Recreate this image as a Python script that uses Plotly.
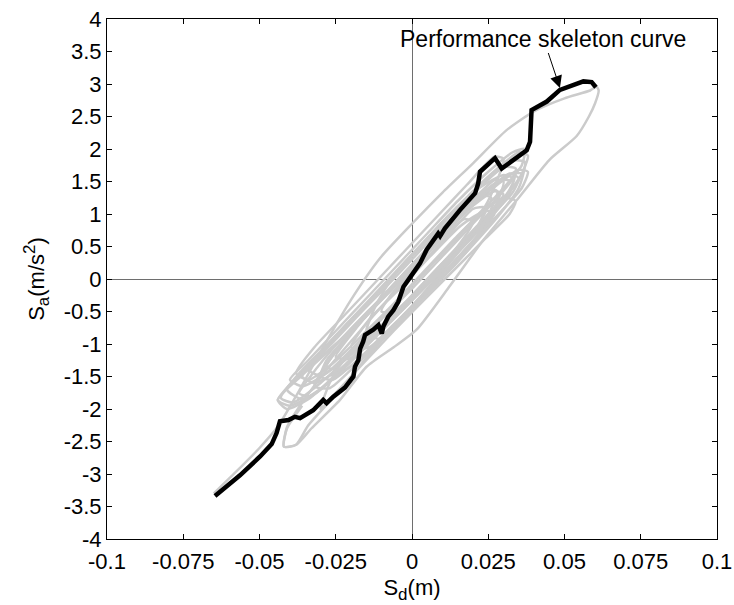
import plotly.graph_objects as go

# ---- data ----
skel_x = [-0.0646, -0.0564, -0.0498, -0.046, -0.0444, -0.0433, -0.0405, -0.0384, -0.0367,
          -0.0324, -0.0291, -0.028, -0.0258, -0.022, -0.0192, -0.0187, -0.0176, -0.017,
          -0.016, -0.0154, -0.0127, -0.011, -0.0099, -0.0094, -0.0078, -0.0061, -0.0045,
          -0.0028, -0.0001, 0.0026, 0.0048, 0.0086, 0.0092, 0.0108, 0.0157, 0.0207, 0.0217,
          0.0223, 0.0272, 0.0294, 0.0376, 0.0387, 0.0392, 0.0442, 0.0485, 0.0529, 0.0562,
          0.0589, 0.0603]
skel_y = [-3.34, -3.02, -2.73, -2.54, -2.37, -2.19, -2.17, -2.12, -2.14,
          -2.02, -1.86, -1.91, -1.81, -1.67, -1.50, -1.35, -1.25, -1.07,
          -0.96, -0.86, -0.78, -0.71, -0.84, -0.73, -0.58, -0.48, -0.35,
          -0.12, 0.06, 0.24, 0.45, 0.70, 0.66, 0.78, 1.06, 1.32, 1.47,
          1.65, 1.86, 1.70, 1.98, 2.11, 2.60, 2.73, 2.91, 2.98, 3.04,
          3.03, 2.95]

# hysteresis loops (grey)
loopA_x = [-0.065, -0.058, -0.050, -0.044, -0.038, -0.030, -0.020, -0.0105, 0.000, 0.010, 0.020,
           0.031, 0.040, 0.050, 0.0584, 0.0605, 0.0612, 0.060, 0.058, 0.054, 0.045, 0.035, 0.0234,
           0.0125, 0.0015, -0.006, -0.0149, -0.0236, -0.033, -0.038, -0.042, -0.041, -0.036]
loopA_y = [-3.30, -2.98, -2.60, -2.27, -1.80, -1.12, -0.32, 0.32, 0.85, 1.33, 1.78,
           2.29, 2.58, 2.78, 2.90, 2.96, 2.90, 2.70, 2.50, 2.20, 1.83, 1.25, 0.60,
           -0.10, -0.78, -1.05, -1.35, -1.86, -2.30, -2.55, -2.58, -2.30, -1.95]

loop1_x = [-0.044, -0.040, -0.030, -0.020, -0.010, 0.000, 0.010, 0.020, 0.030, 0.036, 0.038,
           0.035, 0.028, 0.020, 0.010, 0.000, -0.010, -0.020, -0.030, -0.038, -0.044]
loop1_y = [-1.86, -1.95, -1.70, -1.25, -0.75, -0.30, 0.20, 0.72, 1.22, 1.62, 1.90,
           1.95, 1.70, 1.35, 0.85, 0.35, -0.15, -0.62, -1.12, -1.52, -1.86]

loop2_x = [-0.040, -0.036, -0.028, -0.018, -0.008, 0.002, 0.012, 0.022, 0.030, 0.036, 0.037,
           0.033, 0.025, 0.015, 0.005, -0.005, -0.015, -0.025, -0.034, -0.040]
loop2_y = [-1.55, -1.65, -1.45, -1.00, -0.50, 0.00, 0.50, 1.00, 1.40, 1.75, 2.00,
           1.95, 1.65, 1.20, 0.70, 0.20, -0.30, -0.80, -1.25, -1.55]

loop3_x = [-0.037, -0.033, -0.025, -0.015, -0.005, 0.005, 0.015, 0.025, 0.033, 0.035,
           0.032, 0.025, 0.015, 0.005, -0.005, -0.015, -0.025, -0.033, -0.037]
loop3_y = [-1.76, -1.80, -1.50, -1.02, -0.55, -0.08, 0.42, 0.92, 1.33, 1.55,
           1.62, 1.38, 0.92, 0.42, -0.08, -0.52, -1.02, -1.48, -1.76]

loop4_x = [-0.042, -0.038, -0.034, -0.025, -0.015, -0.005, 0.005, 0.015, 0.022, 0.024,
           0.020, 0.012, 0.002, -0.008, -0.018, -0.028, -0.036, -0.041, -0.042]
loop4_y = [-2.58, -2.55, -2.25, -1.78, -1.22, -0.68, -0.15, 0.40, 0.85, 1.10,
           1.08, 0.68, 0.18, -0.32, -0.85, -1.40, -1.90, -2.28, -2.58]

loop5_x = [-0.030, -0.026, -0.018, -0.008, 0.002, 0.012, 0.022, 0.030, 0.036, 0.038,
           0.035, 0.028, 0.018, 0.008, -0.002, -0.012, -0.022, -0.028, -0.030]
loop5_y = [-1.50, -1.55, -1.25, -0.80, -0.32, 0.18, 0.68, 1.08, 1.40, 1.65,
           1.68, 1.45, 1.05, 0.55, 0.08, -0.42, -0.92, -1.25, -1.50]

loop6_x = [-0.043, -0.039, -0.030, -0.020, -0.010, 0.000, 0.010, 0.020, 0.028, 0.033,
           0.030, 0.022, 0.012, 0.002, -0.008, -0.018, -0.028, -0.037, -0.043]
loop6_y = [-1.83, -1.90, -1.60, -1.15, -0.62, -0.15, 0.35, 0.85, 1.25, 1.55,
           1.60, 1.40, 0.98, 0.48, -0.02, -0.52, -1.02, -1.45, -1.83]

loop7_x = [-0.025, -0.020, -0.012, -0.002, 0.008, 0.018, 0.026, 0.031, 0.033,
           0.029, 0.020, 0.010, 0.000, -0.010, -0.019, -0.025]
loop7_y = [-1.20, -1.22, -0.88, -0.42, 0.08, 0.58, 1.00, 1.30, 1.50,
           1.52, 1.20, 0.72, 0.22, -0.30, -0.80, -1.20]

loop8_x = [-0.034, -0.030, -0.022, -0.012, -0.002, 0.008, 0.018, 0.026, 0.030,
           0.027, 0.018, 0.008, -0.002, -0.012, -0.022, -0.030, -0.034]
loop8_y = [-1.40, -1.48, -1.25, -0.80, -0.35, 0.15, 0.62, 1.05, 1.30,
           1.35, 1.05, 0.55, 0.05, -0.42, -0.88, -1.20, -1.40]

loop9_x = [-0.020, -0.014, -0.006, 0.004, 0.014, 0.022, 0.027,
           0.024, 0.016, 0.006, -0.004, -0.014, -0.020]
loop9_y = [-1.05, -1.05, -0.70, -0.22, 0.28, 0.70, 1.00,
           1.05, 0.82, 0.35, -0.15, -0.62, -1.05]

loop10_x = [-0.036, -0.032, -0.024, -0.014, -0.004, 0.006, 0.016, 0.026, 0.032, 0.034,
            0.030, 0.022, 0.012, 0.002, -0.008, -0.018, -0.028, -0.034, -0.036]
loop10_y = [-1.50, -1.60, -1.40, -0.98, -0.52, -0.05, 0.45, 0.95, 1.32, 1.70,
            1.72, 1.40, 0.95, 0.45, -0.05, -0.55, -1.05, -1.35, -1.50]

loop11_x = [-0.028, -0.022, -0.014, -0.004, 0.006, 0.016, 0.024, 0.030,
            0.027, 0.018, 0.008, -0.002, -0.012, -0.022, -0.028]
loop11_y = [-1.35, -1.40, -1.10, -0.65, -0.18, 0.32, 0.78, 1.50,
            1.52, 1.12, 0.62, 0.12, -0.40, -0.95, -1.35]

loop12_x = [-0.041, -0.036, -0.028, -0.018, -0.008, 0.002, 0.012, 0.020, 0.026,
            0.022, 0.014, 0.004, -0.006, -0.016, -0.026, -0.035, -0.041]
loop12_y = [-1.70, -1.85, -1.62, -1.18, -0.70, -0.22, 0.28, 0.70, 1.25,
            1.28, 0.98, 0.50, 0.00, -0.48, -0.98, -1.40, -1.70]

loop13_x = [-0.044, -0.041, -0.034, -0.024, -0.014, -0.004, 0.006, 0.016, 0.026, 0.034,
            0.036, 0.032, 0.024, 0.014, 0.004, -0.006, -0.016, -0.026, -0.036, -0.044]
loop13_y = [-1.86, -2.00, -1.85, -1.42, -0.92, -0.45, 0.05, 0.55, 1.05, 1.45,
            1.62, 1.62, 1.32, 0.88, 0.40, -0.08, -0.58, -1.05, -1.48, -1.86]

loop14_x = [-0.015, -0.010, -0.002, 0.008, 0.018, 0.028, 0.035, 0.037,
            0.033, 0.025, 0.015, 0.005, -0.005, -0.012, -0.015]
loop14_y = [-0.85, -0.92, -0.55, -0.08, 0.42, 0.95, 1.40, 1.80,
            1.82, 1.55, 1.12, 0.62, 0.12, -0.42, -0.85]

loop15_x = [-0.010, -0.004, 0.004, 0.012, 0.020, 0.017, 0.009, 0.001, -0.007, -0.010]
loop15_y = [-0.50, -0.48, -0.10, 0.32, 0.88, 0.92, 0.58, 0.18, -0.25, -0.50]

loop16_x = [-0.032, -0.027, -0.019, -0.009, 0.001, 0.011, 0.020, 0.028,
            0.025, 0.016, 0.006, -0.004, -0.014, -0.024, -0.032]
loop16_y = [-1.65, -1.68, -1.35, -0.90, -0.42, 0.08, 0.55, 1.35,
            1.38, 0.98, 0.50, 0.00, -0.52, -1.05, -1.65]

loop17_x = [-0.038, -0.034, -0.026, -0.016, -0.006, 0.004, 0.014, 0.024, 0.030,
            0.027, 0.018, 0.008, -0.002, -0.012, -0.022, -0.032, -0.038]
loop17_y = [-1.45, -1.55, -1.30, -0.85, -0.38, 0.12, 0.62, 1.12, 1.85,
            1.88, 1.45, 0.95, 0.45, -0.05, -0.55, -1.05, -1.45]

loop18_x = [-0.030, -0.024, -0.016, -0.006, 0.004, 0.014, 0.024, 0.032, 0.034,
            0.030, 0.022, 0.012, 0.002, -0.008, -0.018, -0.026, -0.030]
loop18_y = [-2.00, -1.70, -1.30, -0.80, -0.32, 0.15, 0.62, 1.00, 1.20,
            1.25, 0.98, 0.50, 0.00, -0.50, -1.00, -1.50, -2.00]

loops = [(loopA_x, loopA_y), (loop1_x, loop1_y), (loop2_x, loop2_y), (loop3_x, loop3_y),
         (loop4_x, loop4_y), (loop5_x, loop5_y), (loop6_x, loop6_y), (loop7_x, loop7_y),
         (loop8_x, loop8_y), (loop9_x, loop9_y), (loop10_x, loop10_y), (loop11_x, loop11_y),
         (loop12_x, loop12_y), (loop13_x, loop13_y), (loop14_x, loop14_y), (loop15_x, loop15_y),
         (loop16_x, loop16_y), (loop17_x, loop17_y), (loop18_x, loop18_y)]

x_ticks = [-0.1, -0.075, -0.05, -0.025, 0, 0.025, 0.05, 0.075, 0.1]
x_ticktext = ["-0.1", "-0.075", "-0.05", "-0.025", "0", "0.025", "0.05", "0.075", "0.1"]
y_ticks = [-4, -3.5, -3, -2.5, -2, -1.5, -1, -0.5, 0, 0.5, 1, 1.5, 2, 2.5, 3, 3.5, 4]
y_ticktext = ["-4", "-3.5", "-3", "-2.5", "-2", "-1.5", "-1", "-0.5", "0", "0.5", "1",
              "1.5", "2", "2.5", "3", "3.5", "4"]

annot_text = "Performance skeleton curve"
annot_head = (0.0485, 2.94)
annot_text_pos = (0.0431, 3.70)

# ---- figure ----
FONT = "Liberation Sans, Arial, sans-serif"
FS = 22
fig = go.Figure()
for lx, ly in loops:
    fig.add_trace(go.Scatter(x=lx, y=ly, mode="lines",
                             line=dict(color="#cbcbcb", width=2.5, shape="spline", smoothing=0.6),
                             showlegend=False, hoverinfo="skip"))
fig.add_trace(go.Scatter(x=skel_x, y=skel_y, mode="lines", line=dict(color="black", width=4.5),
                         showlegend=False))

fig.add_annotation(x=annot_head[0], y=annot_head[1], ax=annot_text_pos[0], ay=annot_text_pos[1],
                   axref="x", ayref="y", xref="x", yref="y", text=annot_text, showarrow=True,
                   arrowhead=2, arrowsize=2.4, arrowwidth=1, arrowcolor="black",
                   font=dict(family=FONT, size=FS + 1, color="black"))

axis_common = dict(showline=True, linecolor="black", linewidth=1, mirror="ticks",
                   ticks="inside", ticklen=5, tickcolor="black", showgrid=False,
                   zeroline=True, zerolinecolor="#6e6e6e", zerolinewidth=1, automargin=False,
                   tickfont=dict(family=FONT, size=FS, color="black"))

fig.update_xaxes(range=[-0.1, 0.1], tickvals=x_ticks, ticktext=x_ticktext, ticklabelstandoff=3,
                 title=dict(text='S<sub><span style="font-size:17px">d</span></sub>(m)',
                            font=dict(family=FONT, size=FS, color="black"), standoff=6),
                 **axis_common)
fig.update_yaxes(range=[-4, 4], tickvals=y_ticks, ticktext=y_ticktext,
                 title=dict(text='S<sub><span style="font-size:17px">a</span></sub>(m/s<sup><span style="font-size:17px">2</span></sup>)',
                            font=dict(family=FONT, size=FS, color="black"), standoff=12),
                 **axis_common)

fig.update_layout(width=734, height=605, margin=dict(l=107, r=17, t=19, b=66),
                  plot_bgcolor="white", paper_bgcolor="white", showlegend=False)

fig.write_html("out.html")
